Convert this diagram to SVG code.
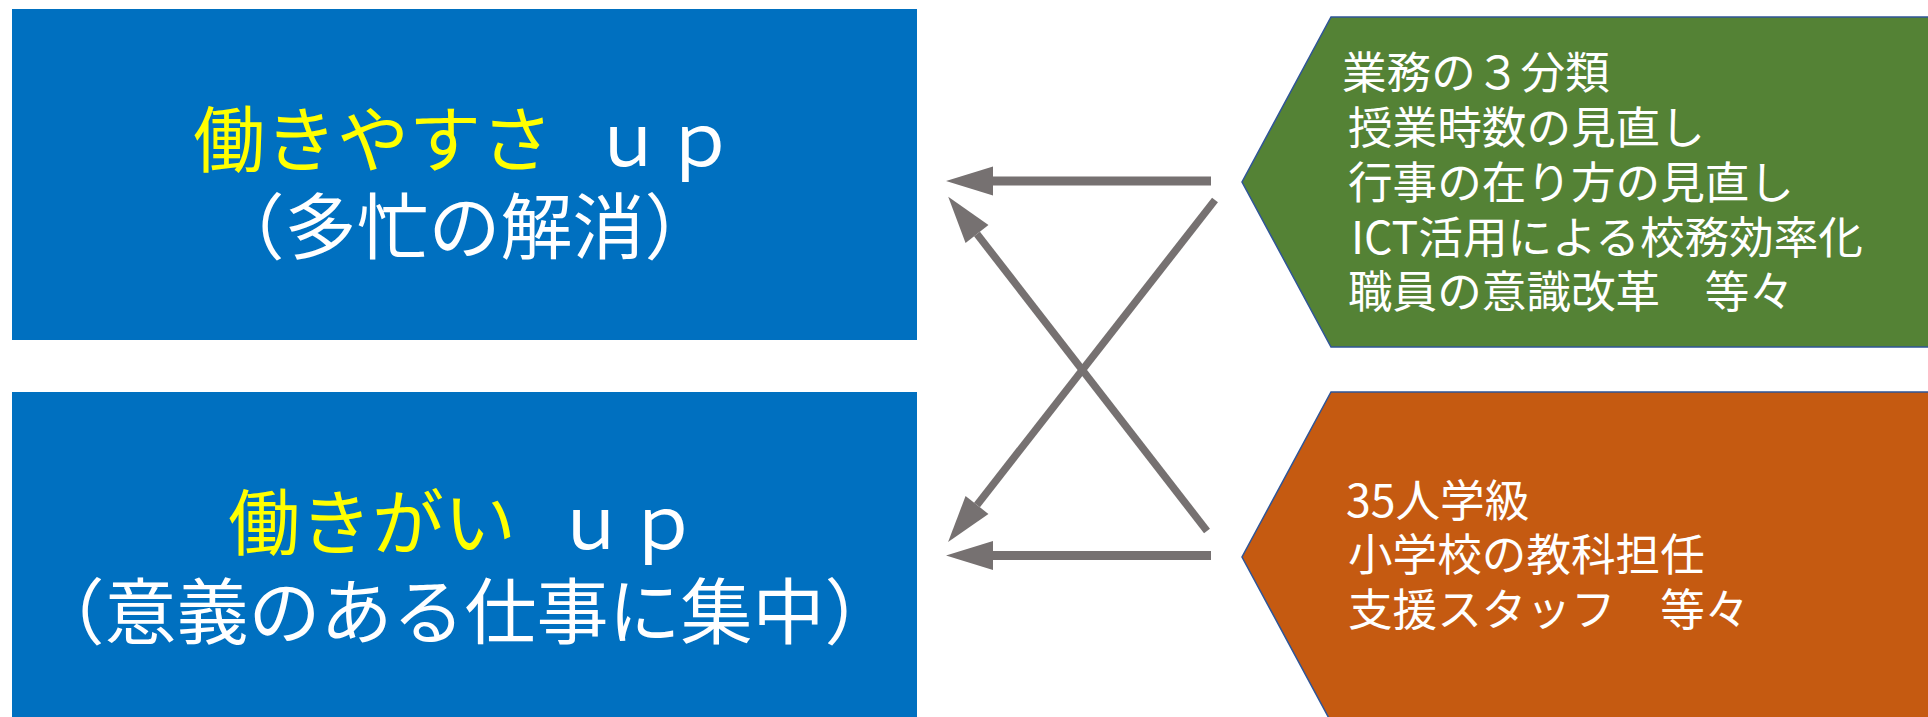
<svg xmlns="http://www.w3.org/2000/svg" width="1928" height="717" viewBox="0 0 1928 717">
<style>
.box{fill:#0070C0}
.big{font-family:"Noto Sans CJK JP","Noto Sans",sans-serif;font-size:72px;fill:#FFFFFF}
.yel{fill:#FFFF00}
.side{font-family:"Noto Sans CJK JP","Noto Sans",sans-serif;font-size:44.6px;fill:#FFFFFF}
.conn{stroke:#767171;fill:none;stroke-linecap:butt}
</style>
<defs>
<marker id="ah" markerUnits="userSpaceOnUse" markerWidth="48" markerHeight="30" viewBox="0 -15 48 30" refX="0" refY="0" orient="auto" overflow="visible">
<path d="M0,-14.5 L47,0 L0,14.5 Z" fill="#767171"/>
</marker>
</defs>
<rect width="1928" height="717" fill="#FFFFFF"/>
<g id="node-top">
<rect class="box" x="12" y="9" width="905" height="331"/>
<text class="big" y="166"><tspan class="yel" x="193">働きやすさ</tspan><tspan x="592">ｕｐ</tspan></text>
<text class="big" x="464.5" y="253" text-anchor="middle">（多忙の解消）</text>
</g>
<g id="node-bottom">
<rect class="box" x="12" y="392" width="905" height="331"/>
<text class="big" y="549"><tspan class="yel" x="228">働きがい</tspan><tspan x="555">ｕｐ</tspan></text>
<text class="big" x="464.5" y="638" text-anchor="middle">（意義のある仕事に集中）</text>
</g>
<g id="node-green">
<polygon points="1940,17 1331,17 1242,182 1331,347 1940,347" fill="#548235" stroke="#2F5597" stroke-width="1.5"/>
<text class="side" x="1342" y="89">業務の３分類</text>
<text class="side" x="1348" y="144">授業時数の見直し</text>
<text class="side" x="1348" y="199">行事の在り方の見直し</text>
<text class="side" x="1351" y="254">ICT活用による校務効率化</text>
<text class="side" x="1348" y="308">職員の意識改革　等々</text>
</g>
<g id="node-orange">
<polygon points="1940,392 1331,392 1242,557 1331,722 1940,722" fill="#C55A11" stroke="#2F5597" stroke-width="1.5"/>
<text class="side" x="1346" y="517">35人学級</text>
<text class="side" x="1348" y="571">小学校の教科担任</text>
<text class="side" x="1348" y="626">支援スタッフ　等々</text>
</g>
<g id="connectors">
<line class="conn" x1="1211" y1="181" x2="993" y2="181" stroke-width="9" marker-end="url(#ah)"/>
<line class="conn" x1="1211" y1="555.5" x2="993" y2="555.5" stroke-width="9" marker-end="url(#ah)"/>
<line class="conn" x1="1215" y1="200" x2="977" y2="505" stroke-width="7.5" marker-end="url(#ah)"/>
<line class="conn" x1="1207" y1="531" x2="977" y2="234" stroke-width="7.5" marker-end="url(#ah)"/>
</g>
</svg>
